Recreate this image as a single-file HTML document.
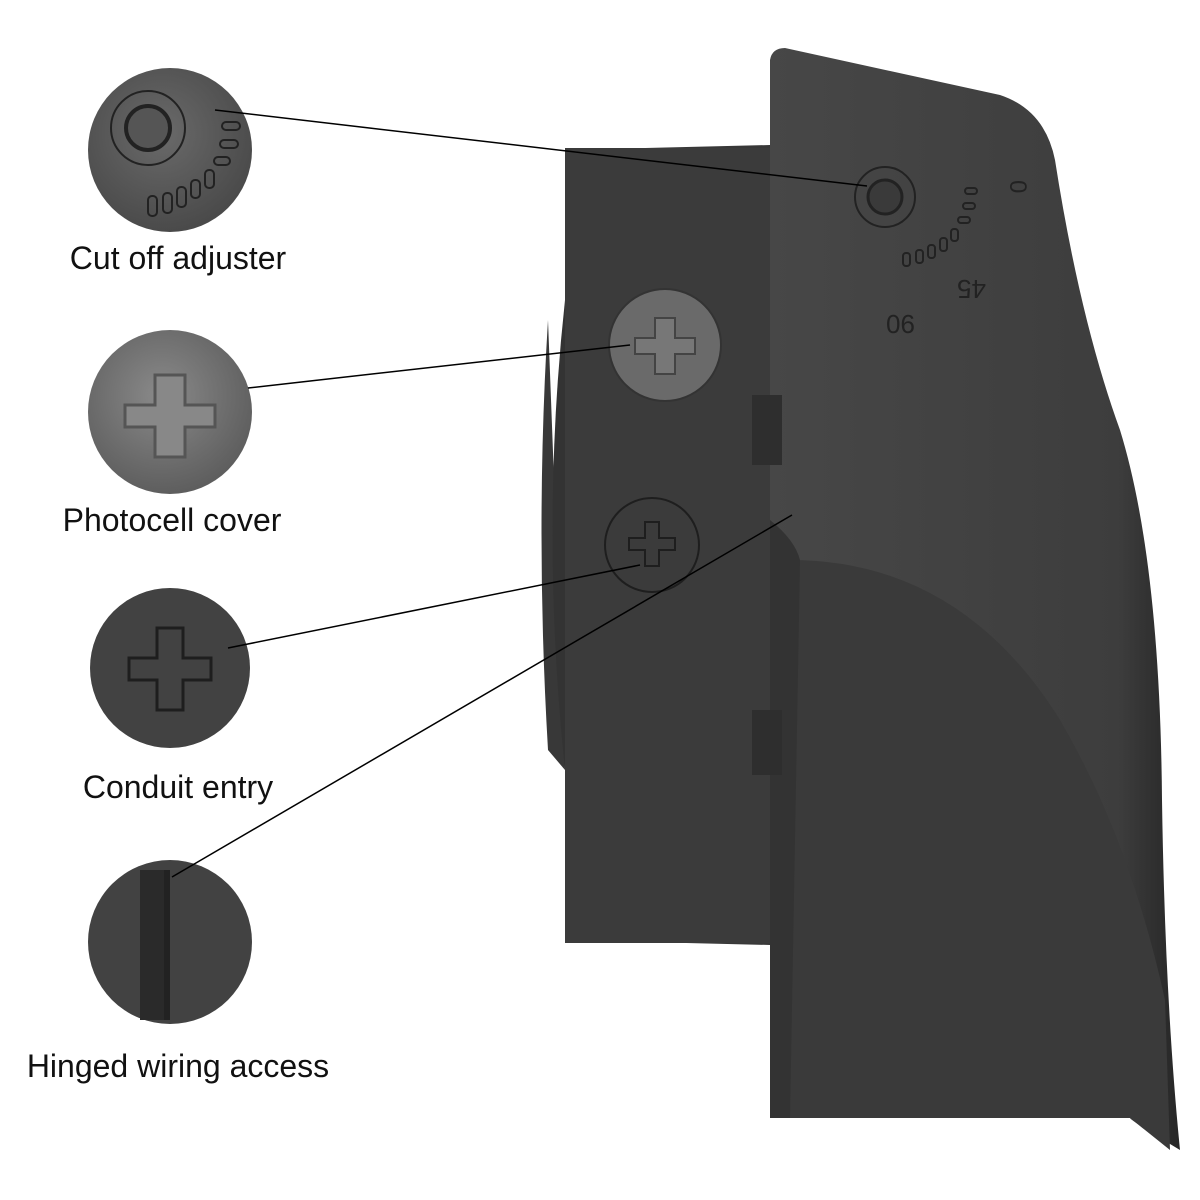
<!DOCTYPE html>
<html><head><style>
html,body{margin:0;padding:0;background:#fff;}
svg{display:block}
text{font-family:"Liberation Sans",sans-serif;fill:#111}
</style></head><body>
<svg width="1200" height="1200" viewBox="0 0 1200 1200">
<defs>
<radialGradient id="g1" cx="45%" cy="40%" r="60%"><stop offset="0" stop-color="#6a6a6a"/><stop offset="1" stop-color="#4a4a4a"/></radialGradient>
<radialGradient id="g2" cx="45%" cy="40%" r="60%"><stop offset="0" stop-color="#8a8a8a"/><stop offset="1" stop-color="#5e5e5e"/></radialGradient>
<linearGradient id="cov" x1="0" x2="1"><stop offset="0" stop-color="#474747"/><stop offset="0.85" stop-color="#3d3d3d"/><stop offset="1" stop-color="#262626"/></linearGradient>
</defs>
<path d="M548 320 Q535 530 548 750 L565 770 L565 150 L770 145 L770 945 L565 940 L565 770 Z" fill="#383838"/>
<rect x="565" y="148" width="205" height="795" fill="#3b3b3b"/>
<path d="M565 300 Q540 530 565 770 Z" fill="#333"/>
<path d="M785 48 L1000 95 Q1045 110 1055 160 Q1080 320 1120 430 Q1160 560 1162 800 Q1165 1000 1180 1150 Q1130 1120 1130 1118 L770 1118 L770 60 Q772 48 785 48 Z" fill="url(#cov)"/>
<path d="M790 560 Q960 560 1060 720 Q1130 840 1165 1000 L1170 1150 L1130 1118 L790 1118 Z" fill="#3a3a3a"/>
<path d="M770 520 Q795 540 800 560 L790 1118 L770 1118 Z" fill="#333"/>
<rect x="752" y="395" width="30" height="70" fill="#2e2e2e"/>
<rect x="752" y="710" width="30" height="65" fill="#2e2e2e"/>
<circle cx="885" cy="197" r="30" fill="none" stroke="#222" stroke-width="2"/>
<circle cx="885" cy="197" r="17" fill="#3a3a3a" stroke="#222" stroke-width="3"/>
<g fill="none" stroke="#222" stroke-width="2">
<rect x="965" y="188" width="12" height="6" rx="3"/><rect x="963" y="203" width="12" height="6" rx="3"/><rect x="958" y="217" width="12" height="6" rx="3"/>
<rect x="951" y="229" width="7" height="12" rx="3"/><rect x="940" y="238" width="7" height="13" rx="3"/><rect x="928" y="245" width="7" height="13" rx="3"/><rect x="916" y="250" width="7" height="13" rx="3"/><rect x="903" y="253" width="7" height="13" rx="3"/>
</g>
<text x="1000" y="190" font-size="24" style="fill:#222" transform="rotate(90 1010 190)">0</text>
<text x="958" y="300" font-size="26" style="fill:#222" transform="rotate(180 972 290)">45</text>
<text x="885" y="335" font-size="26" style="fill:#222" transform="rotate(180 900 325)">90</text>
<circle cx="665" cy="345" r="56" fill="#6a6a6a" stroke="#333" stroke-width="2"/>
<path d="M655 318h20v20h20v16h-20v20h-20v-20h-20v-16h20z" fill="#777" stroke="#444" stroke-width="2"/>
<circle cx="652" cy="545" r="47" fill="none" stroke="#1e1e1e" stroke-width="2"/>
<path d="M645 522h14v16h16v12h-16v16h-14v-16h-16v-12h16z" fill="none" stroke="#1e1e1e" stroke-width="2"/>
<circle cx="170" cy="150" r="82" fill="url(#g1)"/>
<circle cx="148" cy="128" r="37" fill="none" stroke="#222" stroke-width="2"/>
<circle cx="148" cy="128" r="22" fill="#555" stroke="#222" stroke-width="4"/>
<g fill="none" stroke="#222" stroke-width="2">
<rect x="222" y="122" width="18" height="8" rx="4"/><rect x="220" y="140" width="18" height="8" rx="4"/><rect x="214" y="157" width="16" height="8" rx="4"/>
<rect x="205" y="170" width="9" height="18" rx="4"/><rect x="191" y="180" width="9" height="18" rx="4"/><rect x="177" y="187" width="9" height="20" rx="4"/><rect x="163" y="193" width="9" height="20" rx="4"/><rect x="148" y="196" width="9" height="20" rx="4"/>
</g>
<circle cx="170" cy="412" r="82" fill="url(#g2)"/>
<path d="M155 375h30v30h30v22h-30v30h-30v-30h-30v-22h30z" fill="#888" stroke="#555" stroke-width="3"/>
<circle cx="170" cy="668" r="80" fill="#424242"/>
<path d="M157 628h26v30h28v22h-28v30h-26v-30h-28v-22h28z" fill="none" stroke="#1e1e1e" stroke-width="3"/>
<circle cx="170" cy="942" r="82" fill="#424242"/>
<rect x="140" y="870" width="26" height="150" fill="#2a2a2a"/>
<rect x="164" y="870" width="6" height="150" fill="#222"/>
<g stroke="#000" stroke-width="1.5">
<line x1="215" y1="110" x2="867" y2="186"/>
<line x1="248" y1="388" x2="630" y2="345"/>
<line x1="228" y1="648" x2="640" y2="565"/>
<line x1="172" y1="877" x2="792" y2="515"/>
</g>
<g font-size="32" text-anchor="middle">
<text x="178" y="269">Cut off adjuster</text>
<text x="172" y="531">Photocell cover</text>
<text x="178" y="798">Conduit entry</text>
<text x="178" y="1077">Hinged wiring access</text>
</g>
</svg>
</body></html>
